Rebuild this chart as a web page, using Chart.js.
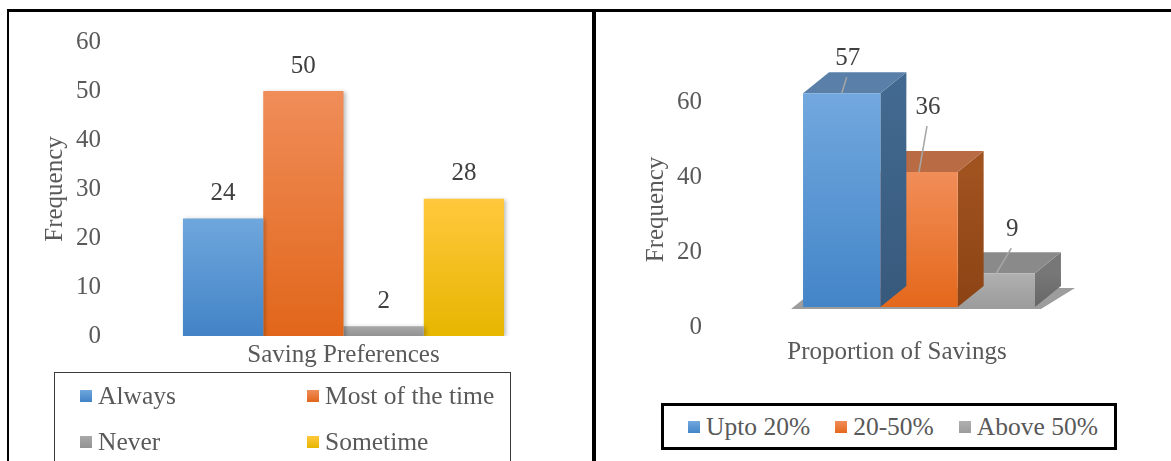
<!DOCTYPE html>
<html>
<head>
<meta charset="utf-8">
<script src="https://cdn.jsdelivr.net/npm/chart.js@4.4.0/dist/chart.umd.min.js"></script>
<style>
  body { margin: 0; background: #fff; font-family: 'Liberation Serif', 'Times New Roman', serif; overflow: hidden; }
  #frame { position: absolute; left: 7px; top: 9px; width: 1180px; height: 470px; border-top: 3px solid #000; border-left: 2px solid #000; }
  #divider { position: absolute; left: 592px; top: 9px; width: 4px; height: 460px; background: #000; }
  #leftChart { position: absolute; left: 8px; top: 0px; }
  #rightChart { position: absolute; left: 597px; top: 12px; }
  .legend { position: absolute; color: #595959; font-size: 25.5px; box-sizing: border-box; }
  #leftLegend { left: 54px; top: 372px; width: 457px; height: 110px; border: 1px solid #3a3a3a;
    display: grid; grid-template-columns: 227px auto; grid-auto-rows: 46px; padding: 0 0 0 25px; align-items: center; }
  #rightLegend { left: 661px; top: 403px; width: 456px; height: 47px; border: 3px solid #000;
    display: flex; justify-content: flex-start; align-items: center; gap: 25px; padding-left: 24px; }
  .item { display: flex; align-items: center; white-space: nowrap; }
  .swatch { width: 12px; height: 12px; margin-right: 6px; }
</style>
</head>
<body>
<div id="frame"></div>
<div id="divider"></div>
<canvas id="leftChart" width="584" height="378"></canvas>
<canvas id="rightChart" width="574" height="380"></canvas>
<div id="leftLegend" class="legend"></div>
<div id="rightLegend" class="legend"></div>
<script>
// left chart: saving preferences
const prefCategories = ['Saving Preferences'];
const prefSeries = ['Always', 'Most of the time', 'Never', 'Sometime'];
const prefValues = [24, 50, 2, 28];
const prefTicks = [0, 10, 20, 30, 40, 50, 60];

// right chart: proportion of savings
const shareCategories = ['Proportion of Savings'];
const shareSeries = ['Upto 20%', '20-50%', 'Above 50%'];
const shareValues = [57, 36, 9];
const shareTicks = [0, 20, 40, 60];

const font = "'Liberation Serif', 'Times New Roman', serif";
const textGrey = '#595959';

// top / bottom colours of the front faces
const prefColors = [['#6fa7dd', '#4283c6'], ['#f08d59', '#e1661a'], ['#a9a9a9', '#929292'], ['#ffc83d', '#e6b600']];
const shareColors = [['#72a8de', '#4385c8'], ['#f18d58', '#e4681b'], ['#b0b0b0', '#9c9c9c']];
const shareSide = [['#42698f', '#37597c'], ['#a0521f', '#8c4314'], ['#777777', '#666666']];
const shareTop = ['#5a80aa', '#b96b43', '#8a8a8a'];
const depth = { dx: 26, dy: -21 };
const shareLabelOffsets = [[6, -35], [9, -65], [16, -44]];

function barGradient(colors) {
  return function (c) {
    const chart = c.chart;
    const y = chart.scales.y;
    if (!y || c.raw === undefined) return colors[0];
    const top = y.getPixelForValue(c.raw);
    const bottom = y.getPixelForValue(0);
    if (!isFinite(top) || !isFinite(bottom) || top === bottom) return colors[0];
    const g = chart.ctx.createLinearGradient(0, top, 0, bottom);
    g.addColorStop(0, colors[0]);
    g.addColorStop(1, colors[1]);
    return g;
  };
}

const tickFont = { family: font, size: 25 };

// soft shadow behind the flat bars + value labels on top
const leftLabels = {
  id: 'leftLabels',
  beforeDatasetsDraw(chart) {
    const ctx = chart.ctx;
    ctx.save();
    ctx.shadowColor = 'rgba(0,0,0,0.25)';
    ctx.shadowBlur = 4;
    ctx.shadowOffsetX = 2;
    ctx.shadowOffsetY = 1;
  },
  afterDatasetsDraw(chart) {
    const ctx = chart.ctx;
    ctx.restore();
    ctx.save();
    ctx.font = '25px ' + font;
    ctx.fillStyle = '#404040';
    ctx.textAlign = 'center';
    ctx.textBaseline = 'middle';
    chart.data.datasets.forEach((ds, i) => {
      chart.getDatasetMeta(i).data.forEach((bar, j) => {
        ctx.fillText(ds.data[j], bar.x, bar.y - 25);
      });
    });
    ctx.restore();
  }
};

new Chart(document.getElementById('leftChart'), {
  type: 'bar',
  data: {
    labels: prefCategories,
    datasets: prefSeries.map((name, i) => ({
      label: name,
      data: [prefValues[i]],
      backgroundColor: barGradient(prefColors[i]),
      categoryPercentage: 0.745,
      barPercentage: 1
    }))
  },
  options: {
    responsive: false,
    animation: false,
    layout: { padding: { top: 0, right: 33, left: 0, bottom: 0 } },
    plugins: { legend: { display: false }, tooltip: { enabled: false } },
    scales: {
      x: {
        grid: { display: false, drawTicks: false },
        border: { display: false },
        ticks: { font: tickFont, color: textGrey, padding: 4 },
        afterFit: s => { s.height = 40; }
      },
      y: {
        min: 0, max: 60,
        grid: { display: false, drawTicks: false },
        border: { display: false },
        afterBuildTicks: s => { s.ticks = prefTicks.map(v => ({ value: v })); },
        ticks: { font: tickFont, color: textGrey, padding: 27 },
        title: { display: true, text: 'Frequency', font: tickFont, color: textGrey, padding: { top: 32, bottom: 0 } },
        afterFit: s => { s.width = 120; }
      }
    }
  },
  plugins: [leftLabels]
});

const bars3d = {
  id: 'bars3d',
  beforeDatasetsDraw(chart) {
    const metas = chart.getSortedVisibleDatasetMetas();
    const first = metas[0].data[0];
    const last = metas[metas.length - 1].data[0];
    const l = first.x - first.width / 2 - 12;
    const r = last.x + last.width / 2 + 6;
    const b = first.base + 2;
    const ctx = chart.ctx;
    ctx.save();
    ctx.fillStyle = '#9d9d9d';
    ctx.beginPath();
    ctx.moveTo(l, b);
    ctx.lineTo(r, b);
    ctx.lineTo(r + depth.dx + 8, b + depth.dy);
    ctx.lineTo(l + depth.dx, b + depth.dy);
    ctx.closePath();
    ctx.fill();
    ctx.restore();
  },
  beforeDatasetDraw(chart, args) {
    const i = args.index;
    const ctx = chart.ctx;
    args.meta.data.forEach(bar => {
      const l = bar.x - bar.width / 2, r = bar.x + bar.width / 2, t = bar.y, b = bar.base;
      ctx.save();
      const g = ctx.createLinearGradient(0, t, 0, b);
      g.addColorStop(0, shareSide[i][0]);
      g.addColorStop(1, shareSide[i][1]);
      ctx.fillStyle = g;
      ctx.beginPath();
      ctx.moveTo(r, t);
      ctx.lineTo(r + depth.dx, t + depth.dy);
      ctx.lineTo(r + depth.dx, b + depth.dy);
      ctx.lineTo(r, b);
      ctx.closePath();
      ctx.fill();
      ctx.fillStyle = shareTop[i];
      ctx.beginPath();
      ctx.moveTo(l, t);
      ctx.lineTo(l + depth.dx, t + depth.dy);
      ctx.lineTo(r + depth.dx, t + depth.dy);
      ctx.lineTo(r, t);
      ctx.closePath();
      ctx.fill();
      ctx.restore();
    });
  },
  afterDatasetsDraw(chart) {
    const ctx = chart.ctx;
    ctx.save();
    ctx.font = '25px ' + font;
    ctx.textAlign = 'center';
    ctx.textBaseline = 'middle';
    chart.data.datasets.forEach((ds, i) => {
      chart.getDatasetMeta(i).data.forEach((bar, j) => {
        const lx = bar.x + shareLabelOffsets[i][0];
        const ly = bar.y + shareLabelOffsets[i][1];
        ctx.strokeStyle = '#a6a6a6';
        ctx.lineWidth = 1.5;
        ctx.beginPath();
        ctx.moveTo(lx - 1, ly + 19);
        ctx.lineTo(bar.x, bar.y);
        ctx.stroke();
        ctx.fillStyle = '#404040';
        ctx.fillText(ds.data[j], lx, ly);
      });
    });
    ctx.restore();
  }
};

new Chart(document.getElementById('rightChart'), {
  type: 'bar',
  data: {
    labels: shareCategories,
    datasets: shareSeries.map((name, i) => ({
      label: name,
      data: [shareValues[i]],
      backgroundColor: barGradient(shareColors[i]),
      categoryPercentage: 0.604,
      barPercentage: 1
    }))
  },
  options: {
    responsive: false,
    animation: false,
    layout: { padding: { top: 70, right: 60, left: 0, bottom: 0 } },
    plugins: { legend: { display: false }, tooltip: { enabled: false } },
    scales: {
      x: {
        grid: { display: false, drawTicks: false },
        border: { display: false },
        ticks: { font: tickFont, color: textGrey, padding: 0, labelOffset: -22 },
        afterFit: s => { s.height = 55; }
      },
      y: {
        min: -8, max: 60,
        grid: { display: false, drawTicks: false },
        border: { display: false },
        afterBuildTicks: s => { s.ticks = shareTicks.map(v => ({ value: v })); },
        ticks: { font: tickFont, color: textGrey, padding: 25, labelOffset: 20 },
        title: { display: true, text: 'Frequency', font: tickFont, color: textGrey, padding: { top: 44, bottom: 0 } },
        afterFit: s => { s.width = 130; }
      }
    }
  },
  plugins: [bars3d]
});

// html legends
function buildLegend(el, names, colors) {
  names.forEach((name, i) => {
    const item = document.createElement('div');
    item.className = 'item';
    const sw = document.createElement('span');
    sw.className = 'swatch';
    sw.style.background = 'linear-gradient(' + colors[i][0] + ',' + colors[i][1] + ')';
    const tx = document.createElement('span');
    tx.textContent = name;
    item.appendChild(sw);
    item.appendChild(tx);
    el.appendChild(item);
  });
}
buildLegend(document.getElementById('leftLegend'), prefSeries, prefColors);
buildLegend(document.getElementById('rightLegend'), shareSeries, shareColors);
</script>
</body>
</html>
